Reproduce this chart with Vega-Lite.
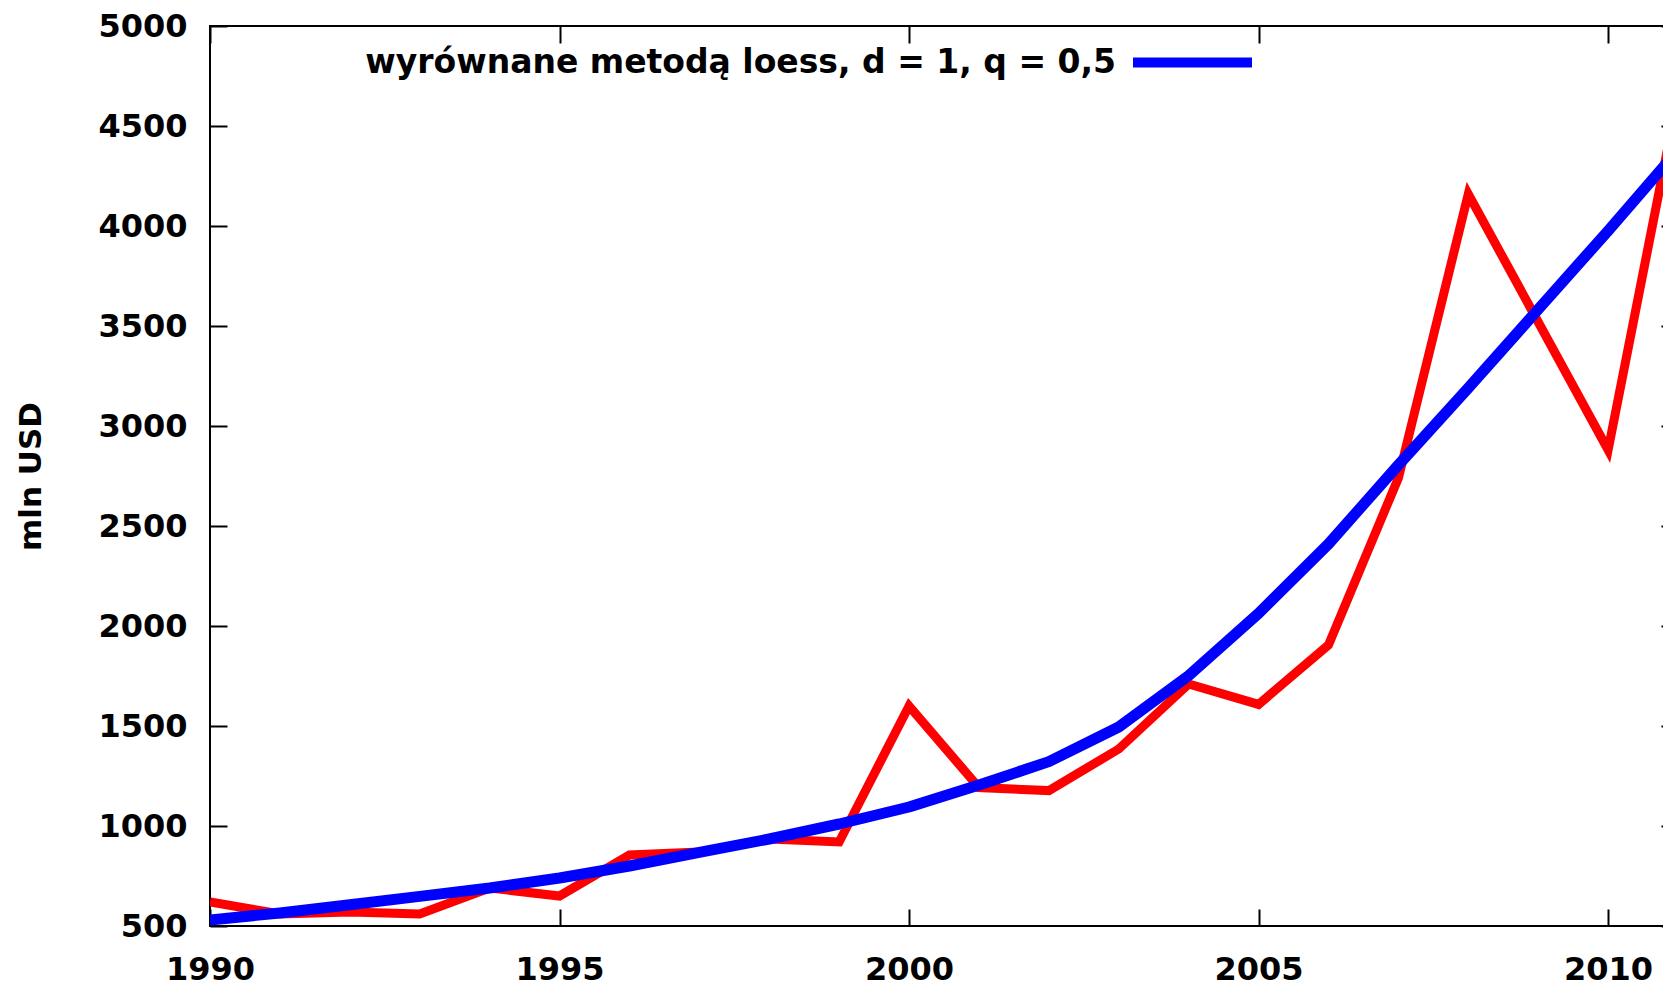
{
  "$schema": "https://vega.github.io/schema/vega-lite/v6.json",
  "autosize": {"type": "none"},
  "padding": {"left": 210, "top": 26, "right": -15, "bottom": 60},
  "width": 1468,
  "height": 900,
  "background": "white",
  "config": {
    "view": {"stroke": "#000000", "strokeWidth": 2},
    "font": "DejaVu Sans"
  },
  "data": {
    "values": [
      {"year": 1990, "value": 620, "series": "dane"},
      {"year": 1991, "value": 560, "series": "dane"},
      {"year": 1992, "value": 570, "series": "dane"},
      {"year": 1993, "value": 560, "series": "dane"},
      {"year": 1994, "value": 690, "series": "dane"},
      {"year": 1995, "value": 650, "series": "dane"},
      {"year": 1996, "value": 855, "series": "dane"},
      {"year": 1997, "value": 870, "series": "dane"},
      {"year": 1998, "value": 935, "series": "dane"},
      {"year": 1999, "value": 920, "series": "dane"},
      {"year": 2000, "value": 1600, "series": "dane"},
      {"year": 2001, "value": 1192, "series": "dane"},
      {"year": 2002, "value": 1177, "series": "dane"},
      {"year": 2003, "value": 1385, "series": "dane"},
      {"year": 2004, "value": 1710, "series": "dane"},
      {"year": 2005, "value": 1608, "series": "dane"},
      {"year": 2006, "value": 1905, "series": "dane"},
      {"year": 2007, "value": 2740, "series": "dane"},
      {"year": 2008, "value": 4160, "series": "dane"},
      {"year": 2009, "value": 3520, "series": "dane"},
      {"year": 2010, "value": 2880, "series": "dane"},
      {"year": 2011, "value": 4650, "series": "dane"},
      {"year": 1990, "value": 530, "series": "wyrównane metodą loess, d = 1, q = 0,5"},
      {"year": 1991, "value": 565, "series": "wyrównane metodą loess, d = 1, q = 0,5"},
      {"year": 1992, "value": 606, "series": "wyrównane metodą loess, d = 1, q = 0,5"},
      {"year": 1993, "value": 648, "series": "wyrównane metodą loess, d = 1, q = 0,5"},
      {"year": 1994, "value": 690, "series": "wyrównane metodą loess, d = 1, q = 0,5"},
      {"year": 1995, "value": 740, "series": "wyrównane metodą loess, d = 1, q = 0,5"},
      {"year": 1996, "value": 800, "series": "wyrównane metodą loess, d = 1, q = 0,5"},
      {"year": 1997, "value": 868, "series": "wyrównane metodą loess, d = 1, q = 0,5"},
      {"year": 1998, "value": 935, "series": "wyrównane metodą loess, d = 1, q = 0,5"},
      {"year": 1999, "value": 1010, "series": "wyrównane metodą loess, d = 1, q = 0,5"},
      {"year": 2000, "value": 1095, "series": "wyrównane metodą loess, d = 1, q = 0,5"},
      {"year": 2001, "value": 1205, "series": "wyrównane metodą loess, d = 1, q = 0,5"},
      {"year": 2002, "value": 1322, "series": "wyrównane metodą loess, d = 1, q = 0,5"},
      {"year": 2003, "value": 1495, "series": "wyrównane metodą loess, d = 1, q = 0,5"},
      {"year": 2004, "value": 1752, "series": "wyrównane metodą loess, d = 1, q = 0,5"},
      {"year": 2005, "value": 2063, "series": "wyrównane metodą loess, d = 1, q = 0,5"},
      {"year": 2006, "value": 2410, "series": "wyrównane metodą loess, d = 1, q = 0,5"},
      {"year": 2007, "value": 2805, "series": "wyrównane metodą loess, d = 1, q = 0,5"},
      {"year": 2008, "value": 3190, "series": "wyrównane metodą loess, d = 1, q = 0,5"},
      {"year": 2009, "value": 3583, "series": "wyrównane metodą loess, d = 1, q = 0,5"},
      {"year": 2010, "value": 3976, "series": "wyrównane metodą loess, d = 1, q = 0,5"},
      {"year": 2011, "value": 4380, "series": "wyrównane metodą loess, d = 1, q = 0,5"}
    ]
  },
  "layer": [
    {
      "transform": [{"filter": "datum.series === 'dane'"}],
      "mark": {"type": "line", "color": "#ff0000", "strokeWidth": 9, "strokeJoin": "miter", "clip": true},
      "encoding": {
        "x": {
          "field": "year", "type": "quantitative",
          "scale": {"domain": [1990, 2011], "nice": false, "zero": false},
          "axis": {
            "orient": "bottom", "values": [1990, 1995, 2000, 2005, 2010], "format": "d",
            "title": null, "grid": false, "domain": false,
            "tickSize": -17, "tickColor": "#000000", "tickWidth": 2,
            "labelFont": "DejaVu Sans", "labelFontSize": 32, "labelFontWeight": "bold",
            "labelColor": "#000000", "labelPadding": 45, "labelFlush": false, "labelOverlap": false
          }
        },
        "y": {
          "field": "value", "type": "quantitative",
          "scale": {"domain": [500, 5000], "nice": false, "zero": false},
          "axis": {
            "orient": "left", "values": [500, 1000, 1500, 2000, 2500, 3000, 3500, 4000, 4500, 5000],
            "format": "d", "title": "mln USD", "grid": false, "domain": false,
            "tickSize": -17, "tickColor": "#000000", "tickWidth": 2,
            "labelFont": "DejaVu Sans", "labelFontSize": 32, "labelFontWeight": "bold",
            "labelColor": "#000000", "labelPadding": 40, "labelOverlap": false,
            "titleFont": "DejaVu Sans", "titleFontSize": 31, "titleFontWeight": "bold",
            "titleColor": "#000000", "titlePadding": 50
          }
        }
      }
    },
    {
      "transform": [{"filter": "datum.series !== 'dane'"}],
      "mark": {"type": "line", "strokeWidth": 11, "strokeJoin": "round", "clip": true},
      "encoding": {
        "x": {
          "field": "year", "type": "quantitative",
          "axis": {
            "orient": "top", "values": [1990, 1995, 2000, 2005, 2010], "labels": false,
            "title": null, "grid": false, "domain": false,
            "tickSize": -17, "tickColor": "#000000", "tickWidth": 2
          }
        },
        "y": {
          "field": "value", "type": "quantitative",
          "axis": {
            "orient": "right", "values": [500, 1000, 1500, 2000, 2500, 3000, 3500, 4000, 4500, 5000],
            "labels": false, "title": null, "grid": false, "domain": false,
            "tickSize": -17, "tickColor": "#000000", "tickWidth": 2
          }
        },
        "color": {
          "field": "series", "type": "nominal",
          "scale": {"domain": ["wyrównane metodą loess, d = 1, q = 0,5"], "range": ["#0000ff"]},
          "legend": {
            "orient": "none", "legendX": 918, "legendY": -28, "title": null,
            "symbolType": "stroke", "symbolSize": 14161, "symbolStrokeWidth": 10,
            "labelFont": "DejaVu Sans", "labelFontSize": 33, "labelFontWeight": "bold",
            "labelColor": "#000000", "labelAlign": "right", "labelOffset": -141,
            "labelLimit": 0, "padding": 0, "offset": 0
          }
        }
      }
    }
  ],
  "resolve": {"axis": {"x": "independent", "y": "independent"}}
}
